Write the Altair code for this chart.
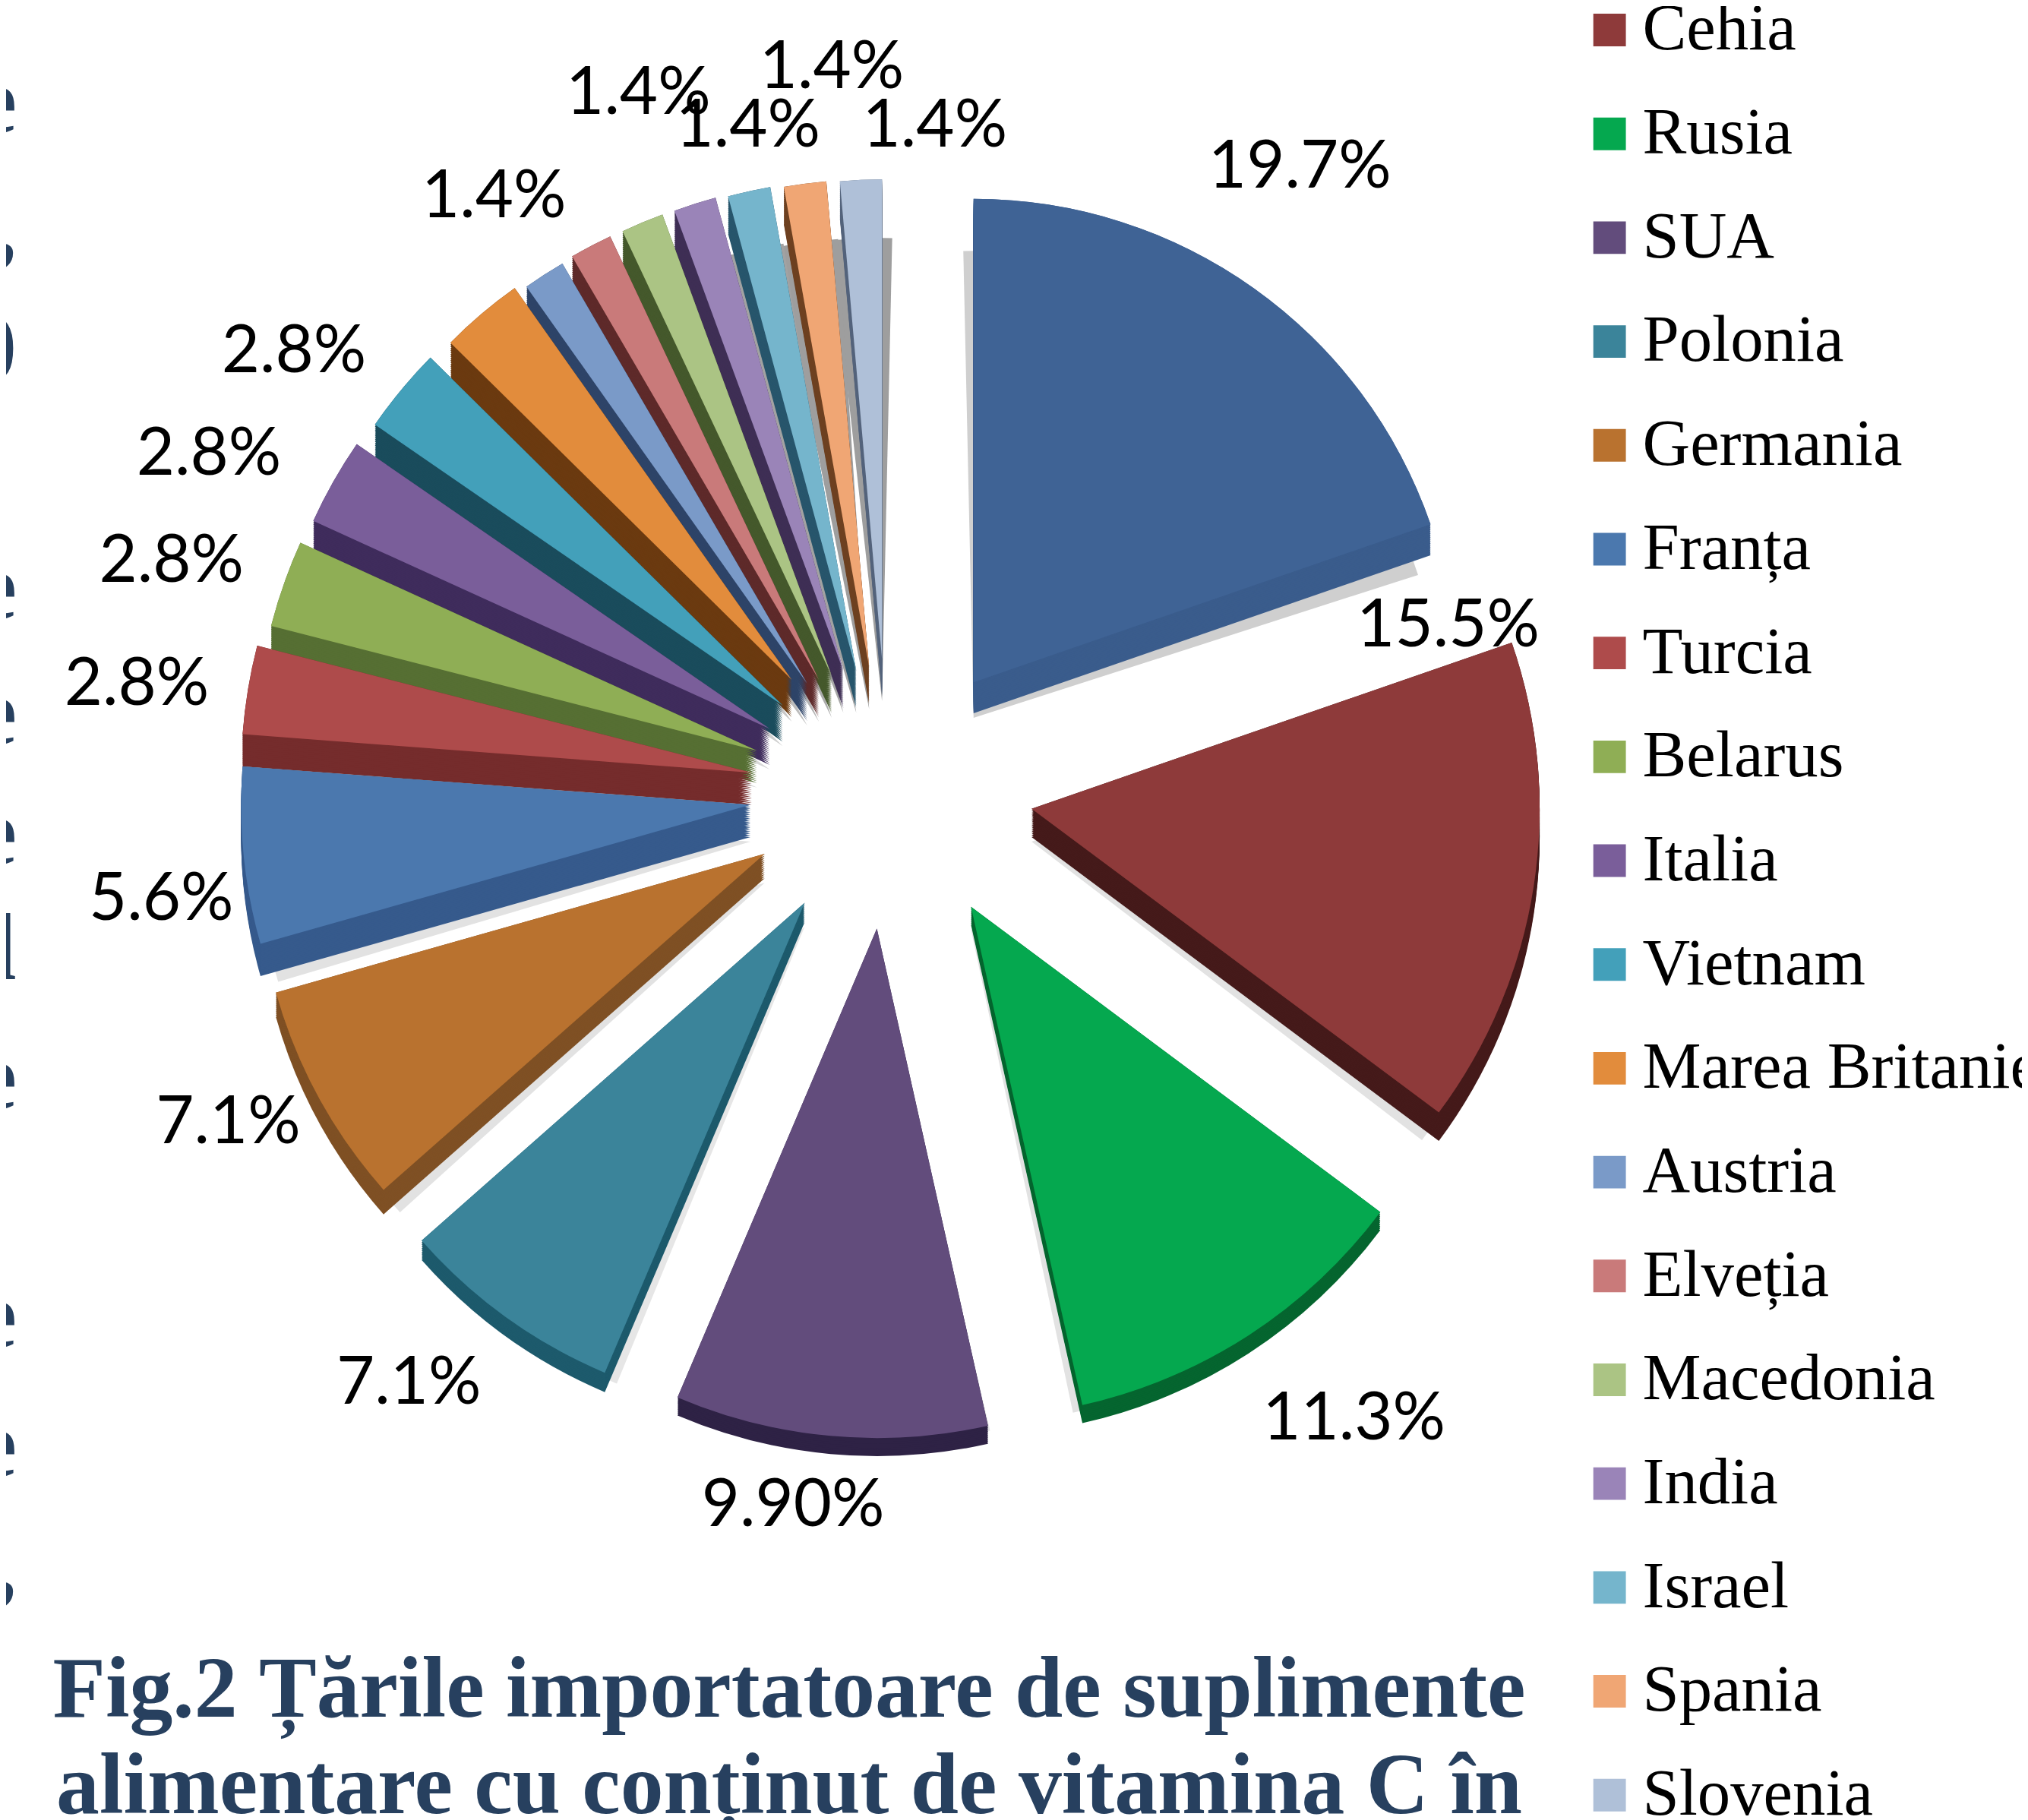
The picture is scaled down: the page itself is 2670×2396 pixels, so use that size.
import math
import altair as alt
import pandas as pd

# ---- chart values ----
categories = ["Ucraina", "Cehia", "Rusia", "SUA", "Polonia", "Germania", "Franța", "Turcia", "Belarus", "Italia",
              "Vietnam", "Marea Britanie", "Austria", "Elveția", "Macedonia", "India", "Israel", "Spania", "Slovenia"]
values = [19.7, 15.5, 11.3, 9.9, 7.1, 7.1, 5.6, 2.8, 2.8, 2.8, 2.8, 2.8, 1.4, 1.4, 1.4, 1.4, 1.4, 1.4, 1.4]
colors = ["#3F6395", "#8E3A3A", "#05A84F", "#624C7C", "#3B849A", "#B9722F", "#4B78AE", "#AE4B4B", "#8FAE55", "#7A5E9A",
          "#43A0BA", "#E28C3C", "#7A9AC8", "#C97A7A", "#ABC484", "#9A84B8", "#75B5CC", "#F0A674", "#AFC0D8"]
sides = ["#3A5C8C", "#451A1A", "#05652F", "#2E2245", "#1D5A6C", "#7F5024", "#365A8C", "#752C2C", "#566F33", "#3F2C5C",
         "#1A4C5C", "#6B3A10", "#2E4468", "#5E2A2A", "#45592C", "#3F2F55", "#28566C", "#6E4020", "#55647C"]
shadows = ["#cfcfcf", "#e2e2e2", "#e2e2e2", "#e6e6e6", "#e6e6e6", "#e2e2e2", "#e2e2e2", "#d8d8d8", "#d8d8d8", "#d8d8d8",
           "#d0d0d0", "#c8c8c8", "#bcbcbc", "#b4b4b4", "#acacac", "#a6a6a6", "#a2a2a2", "#9e9e9e", "#9e9e9e"]
label_text = ["19.7%", "15.5%", "11.3%", "9.90%", "7.1%", "7.1%", "5.6%", "2.8%", "2.8%", "2.8%", "2.8%",
              "1.4%", "1.4%", "1.4%", "1.4%", "1.4%"]
title_lines = ["Fig.2 Țările importatoare de suplimente", "alimentare cu conținut de vitamina C în"]
edge_glyphs = ["e", ",", "0", "e", "e", "e", "l", "e", "e", "e", ","]

# ---- placement in reference pixels (shrunk view, scaled below) ----
S = 2670 / 1568
apex_x = [755, 800, 753, 680, 624, 593, 582, 583, 587, 597, 607, 614, 626, 635, 645, 654, 664, 674, 684]
apex_y = [527, 625, 701, 718, 698, 660, 622, 597, 580, 563, 545, 525, 528, 525, 522, 518, 518, 515, 509]
radius = [375, 394, 396, 395, 396, 394, 395, 396, 389, 389, 384, 372, 377, 380, 381, 380, 381, 378, 372]
depth = [24, 22, 14, 14, 15, 19, 25, 25, 25, 28, 28, 29, 29, 29, 29, 29, 29, 29, 29]
label_x = [1008, 1123, 1050, 615, 317, 177, 125, 106, 133, 162, 228, 383, 495, 580, 645, 725]
label_y = [128, 484, 1099, 1166, 1071, 869, 696, 529, 434, 351, 271, 151, 71, 96, 51, 96]
edge_y = [78, 175, 270, 455, 552, 645, 735, 835, 1020, 1120, 1213]

W, H = 2670, 2396
x_scale = alt.Scale(domain=[8, W], range=[0, W - 8], nice=False, zero=False, clamp=False)
y_scale = alt.Scale(domain=[8, H], range=[0, H - 8], nice=False, zero=False, clamp=False)
X = alt.X("x:Q", scale=x_scale, axis=None)
Y = alt.Y("y:Q", scale=y_scale, axis=None)

total = sum(values)
rows, cum = [], 0.0
for i, (c, v) in enumerate(zip(categories, values)):
    t0 = cum / total * 2 * math.pi
    cum += v
    t1 = cum / total * 2 * math.pi
    rows.append(dict(country=c, t0=t0, t1=t1, x=apex_x[i] * S, y=apex_y[i] * S, r=radius[i] * S,
                     d=depth[i] * S, color=colors[i], side=sides[i], shade=shadows[i], i=i))

# back slices first
draw_order = list(range(18, 5, -1)) + [0, 1, 2, 5, 4, 3]
top_df = pd.DataFrame([rows[i] for i in draw_order])

side_rows = []
for i in draw_order:
    r = rows[i]
    n = max(2, int(r["d"] / 2.5))
    for k in range(n, -1, -1):
        side_rows.append({**r, "y": r["y"] + r["d"] * k / n})
side_df = pd.DataFrame(side_rows)

shadow_rows = []
for i in draw_order:
    r = rows[i]
    pad = 0.022 if i >= 11 or i == 0 else 0.012
    shadow_rows.append({**r, "t0": r["t0"] - pad, "t1": r["t1"] + pad, "y": r["y"] + r["d"] + 6, "r": r["r"] - 22})
shadow_df = pd.DataFrame(shadow_rows)


def arc_enc():
    return dict(x=X, y=Y,
                theta=alt.Theta("t0:Q", scale=None, stack=None),
                theta2=alt.Theta2("t1:Q"),
                radius=alt.Radius("r:Q", scale=None))


shadow = alt.Chart(shadow_df).mark_arc().encode(color=alt.Color("shade:N", scale=None, legend=None), **arc_enc())
side = alt.Chart(side_df).mark_arc().encode(color=alt.Color("side:N", scale=None, legend=None), **arc_enc())
top = alt.Chart(top_df).mark_arc().encode(
    color=alt.Color("country:N",
                    scale=alt.Scale(domain=categories, range=colors),
                    legend=alt.Legend(orient="none", legendX=2074, legendY=-15.5, title=None,
                                      values=categories[1:], symbolType="square", symbolSize=1849,
                                      symbolStrokeWidth=0, symbolOpacity=1, labelFont="Liberation Serif",
                                      labelFontSize=87, labelColor="black", labelLimit=1000, labelOffset=0,
                                      rowPadding=49.1, padding=0, offset=0)),
    **arc_enc())

labels_df = pd.DataFrame(dict(x=[v * S for v in label_x], y=[v * S for v in label_y], t=label_text))
labels = alt.Chart(labels_df).mark_text(font="Lato", fontSize=87, color="black", baseline="middle", align="center").encode(
    x=X, y=Y, text="t:N")

title_df = pd.DataFrame(dict(x=[612 * S, 612 * S], y=[1309 * S, 1384 * S], t=title_lines))
title = alt.Chart(title_df).mark_text(font="Liberation Serif", fontWeight="bold", fontSize=114, color="#27405F",
                                      baseline="middle", align="center").encode(x=X, y=Y, text="t:N")

edge_df = pd.DataFrame(dict(x=[22.0] * len(edge_y), y=[v * S for v in edge_y], t=edge_glyphs))
edge = alt.Chart(edge_df).mark_text(font="Liberation Serif", fontWeight="bold", fontSize=125, color="#27405F",
                                    baseline="middle", align="right").encode(x=X, y=Y, text="t:N")

chart = alt.layer(shadow, side, top, labels, title, edge).resolve_scale(color="independent").properties(
    width=W - 8, height=H - 8, padding=0, autosize=alt.AutoSizeParams(type="none"), background="white"
).configure_view(stroke=None)

chart.save("out.html", embed_options={"renderer": "svg", "actions": False})
